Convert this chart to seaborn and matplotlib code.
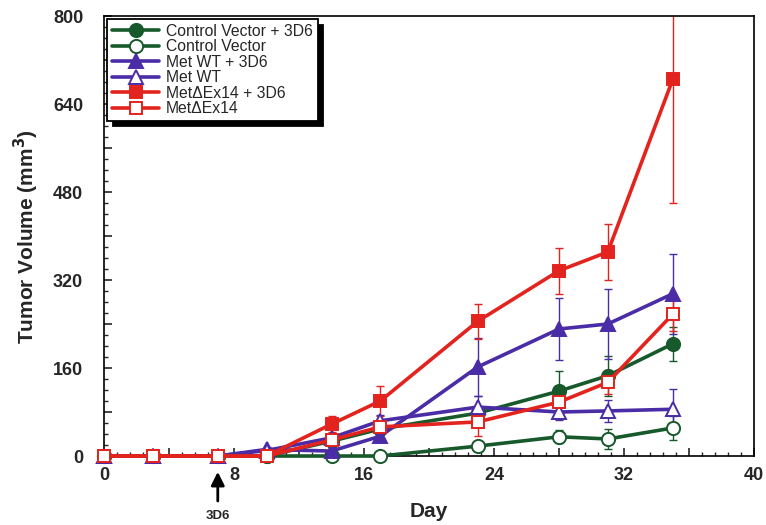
import matplotlib
matplotlib.use("Agg")
import matplotlib.pyplot as plt
from matplotlib.ticker import MultipleLocator, FuncFormatter
import seaborn as sns
import pandas as pd

days = [0, 3, 7, 10, 14, 17, 23, 28, 31, 35]

cv3d6 = [0, 0, 0, 0, 27, 49, 78, 118, 146, 204]
cv3d6_err = [0, 0, 0, 0, 5, 8, 12, 36, 36, 31]
cv = [0, 0, 0, 0, 0, 0, 18, 35, 31, 51]
cv_err = [0, 0, 0, 0, 0, 3, 8, 12, 18, 22]
mw3d6 = [0, 0, 0, 12, 9, 36, 162, 231, 240, 295]
mw3d6_err = [0, 0, 0, 4, 6, 10, 53, 57, 64, 73]
mw = [0, 0, 0, 10, 33, 64, 89, 80, 82, 85]
mw_err = [0, 0, 0, 3, 8, 10, 20, 15, 20, 36]
md3d6 = [0, 0, 0, 0, 58, 100, 245, 337, 371, 685]
md3d6_err = [0, 0, 0, 0, 15, 27, 32, 42, 51, 225]
md = [0, 0, 0, 0, 29, 53, 62, 98, 134, 258]
md_err = [0, 0, 0, 0, 8, 12, 25, 20, 22, 30]

labels = ["Control Vector + 3D6", "Control Vector", "Met WT + 3D6",
          "Met WT", "Met\u0394Ex14 + 3D6", "Met\u0394Ex14"]

GREEN = "#17592a"
BLUE = "#4a2ca6"
RED = "#e3231e"

series = [
    (labels[0], cv3d6, cv3d6_err, GREEN, "o", True),
    (labels[1], cv, cv_err, GREEN, "o", False),
    (labels[2], mw3d6, mw3d6_err, BLUE, "^", True),
    (labels[3], mw, mw_err, BLUE, "^", False),
    (labels[4], md3d6, md3d6_err, RED, "s", True),
    (labels[5], md, md_err, RED, "s", False),
]

sns.set_style("ticks")
plt.rcParams['font.family'] = ['Liberation Sans', 'DejaVu Sans']

fig = plt.figure(figsize=(7.66, 5.25), dpi=100)
ax = fig.add_axes([0.1358, 0.1314, 0.8486, 0.8381])

msize = {"o": 9.5, "^": 10.0, "s": 8.8}
for name, vals, errs, col, mk, filled in series:
    df = pd.DataFrame({"Day": days, "Vol": vals})
    ax.errorbar(days, vals, yerr=errs, fmt="none", ecolor=col,
                elinewidth=1.0, capsize=3, capthick=1.0, zorder=2)
    sns.lineplot(data=df, x="Day", y="Vol", ax=ax, color=col, lw=2.6,
                 marker=mk, markersize=msize[mk],
                 markerfacecolor=col if filled else "white",
                 markeredgecolor=col, markeredgewidth=1.4,
                 label=name, clip_on=False, zorder=3)

ax.set_xlim(0, 40)
ax.set_ylim(0, 800)
ax.xaxis.set_major_locator(MultipleLocator(4))
ax.xaxis.set_minor_locator(MultipleLocator(0.8))
ax.xaxis.set_major_formatter(FuncFormatter(
    lambda v, p: f"{int(round(v))}" if round(v) % 8 == 0 else ""))
ax.yaxis.set_major_locator(MultipleLocator(80))
ax.yaxis.set_minor_locator(MultipleLocator(20))
ax.yaxis.set_major_formatter(FuncFormatter(
    lambda v, p: f"{int(round(v))}" if round(v) % 160 == 0 else ""))
ax.tick_params(axis="both", which="major", direction="in", length=6,
               width=1.2, labelsize=13)
ax.tick_params(axis="x", which="major", pad=8)
ax.tick_params(axis="y", which="major", pad=15)
ax.tick_params(axis="both", which="minor", direction="in", length=3, width=1)
for lab in ax.get_xticklabels() + ax.get_yticklabels():
    lab.set_fontweight("bold")
for s in ax.spines.values():
    s.set_linewidth(1.2)
    s.set_color("black")

ax.set_xlabel("Day", fontsize=15, fontweight="bold")
ax.xaxis.set_label_coords(0.5, -0.104)
ax.set_ylabel("Tumor Volume (mm$^{\\mathbf{3}}$)", fontsize=15,
              fontweight="bold")
ax.yaxis.set_label_coords(-0.097, 0.5)

ax.annotate("3D6", xy=(7, -0.036), xycoords=("data", "axes fraction"),
            xytext=(7, -0.136), textcoords=("data", "axes fraction"),
            ha="center", va="center", fontsize=9.5, fontweight="bold",
            arrowprops=dict(arrowstyle="-|>", color="black", lw=2.0,
                            mutation_scale=20, shrinkA=4, shrinkB=0),
            annotation_clip=False)

leg = ax.legend(loc="upper left", bbox_to_anchor=(0.005, 0.993),
                fontsize=11.3, frameon=True, fancybox=False, framealpha=1,
                edgecolor="black", handlelength=3.0, labelspacing=0.03,
                borderpad=0.3, handletextpad=0.45, borderaxespad=0,
                shadow={"ox": 4, "oy": -4, "facecolor": "black",
                        "edgecolor": "black", "alpha": 1})
leg.get_frame().set_linewidth(1.3)

fig.savefig("out.png", dpi=100)
